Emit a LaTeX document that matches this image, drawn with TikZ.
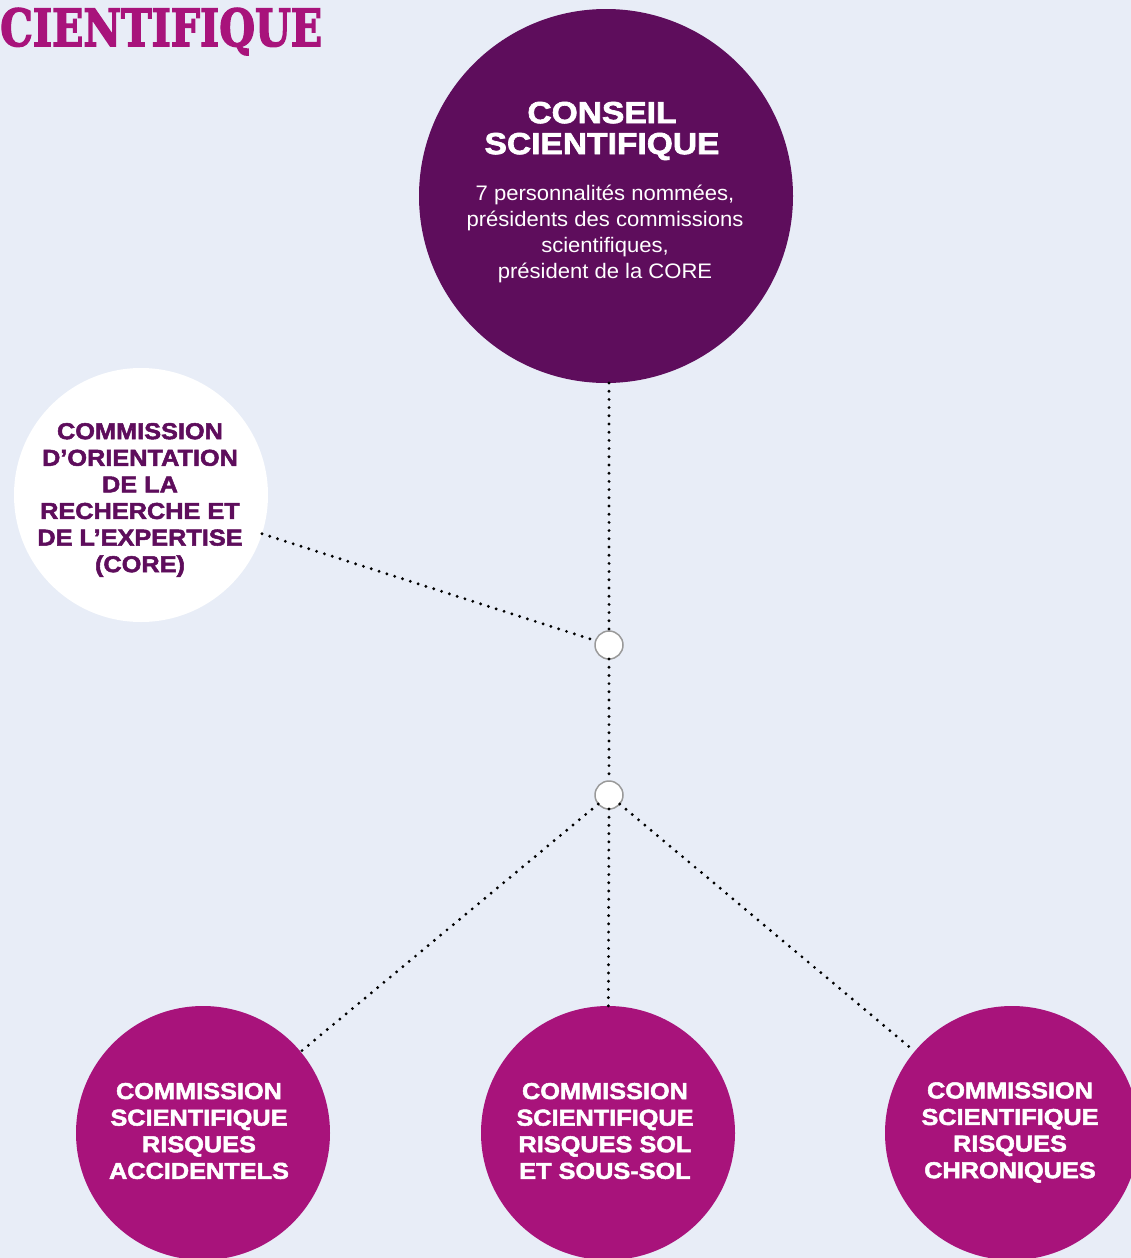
\documentclass[tikz,border=0pt]{standalone}
\usepackage{fontspec}
\setmainfont{Liberation Sans}
\newfontfamily\heavyfont[FakeStretch=1.1,BoldFeatures={FakeBold=2.2}]{Liberation Sans}
\newfontfamily\bodyfont[FakeStretch=1.05]{Liberation Sans}
\newfontfamily\titleserif[BoldFeatures={FakeBold=3}]{DejaVu Serif}
\definecolor{bgcol}{HTML}{E8EDF7}
\definecolor{darkpurple}{HTML}{5E0D5C}
\definecolor{magentac}{HTML}{A8137B}
\definecolor{ringgray}{HTML}{9A9A9A}
\begin{document}
\begin{tikzpicture}[x=1pt,y=-1pt,
  disc/.style={circle, inner sep=0pt, outer sep=0pt, minimum size=#1},
  junction/.style={circle, inner sep=0pt, outer sep=0pt, minimum size=28pt, fill=white, draw=ringgray, line width=1.5pt},
  dotline/.style={line width=3.2pt, dash pattern=on 0pt off 8.2pt, line cap=round, black},
  heavytext/.style={align=center, inner sep=0pt, font=\heavyfont\bfseries\fontsize{23}{26.6}\selectfont},
  headtext/.style={align=center, inner sep=0pt, font=\heavyfont\bfseries\fontsize{30.5}{31}\selectfont},
  bodytext/.style={align=center, inner sep=0pt, font=\bodyfont\fontsize{21}{26}\selectfont}]
\useasboundingbox (0,0) rectangle (1131,1258);
\fill[bgcol] (0,0) rectangle (1131,1258);
\clip (0,0) rectangle (1131,1258);
% title fragment
\node[anchor=base west, inner sep=0pt, text=magentac] (title) at (0,46) {\resizebox{322pt}{38pt}{\titleserif\bfseries CIENTIFIQUE}};
% circles
\node[disc=374pt, fill=darkpurple] (conseil) at (606,196) {};
\node[disc=254pt, fill=white] (core) at (141,495) {};
\node[disc=254pt, fill=magentac] (acc) at (203,1133) {};
\node[disc=254pt, fill=magentac] (sol) at (608,1133) {};
\node[disc=254pt, fill=magentac] (chr) at (1012,1133) {};
\node[junction] (j1) at (609,645) {};
\node[junction] (j2) at (609,795) {};
% connectors
\draw[dotline] (conseil.south -| j1) -- (j1);
\draw[dotline] (core) -- (j1);
\draw[dotline] (j1) -- (j2);
\draw[dotline] (j2) -- (acc);
\draw[dotline] (j2) -- (sol);
\draw[dotline] (j2) -- (chr);
% texts
\node[headtext, text=white] (conseilhead) at (602,131) {CONSEIL\\SCIENTIFIQUE};
\node[bodytext, text=white] (conseilbody) at (605,233.5) {7 personnalités nommées,\\présidents des commissions\\scientifiques,\\président de la CORE};
\node[heavytext, text=darkpurple] (coretext) at (140,500) {COMMISSION\\D’ORIENTATION\\DE LA\\RECHERCHE ET\\DE L’EXPERTISE\\(CORE)};
\node[heavytext, text=white] (acctext) at (199,1131) {COMMISSION\\SCIENTIFIQUE\\RISQUES\\ACCIDENTELS};
\node[heavytext, text=white] (soltext) at (605,1131) {COMMISSION\\SCIENTIFIQUE\\RISQUES SOL\\ET SOUS-SOL};
\node[heavytext, text=white] (chrtext) at (1010,1132.5) {COMMISSION\\SCIENTIFIQUE\\RISQUES\\CHRONIQUES};
\end{tikzpicture}
\end{document}
